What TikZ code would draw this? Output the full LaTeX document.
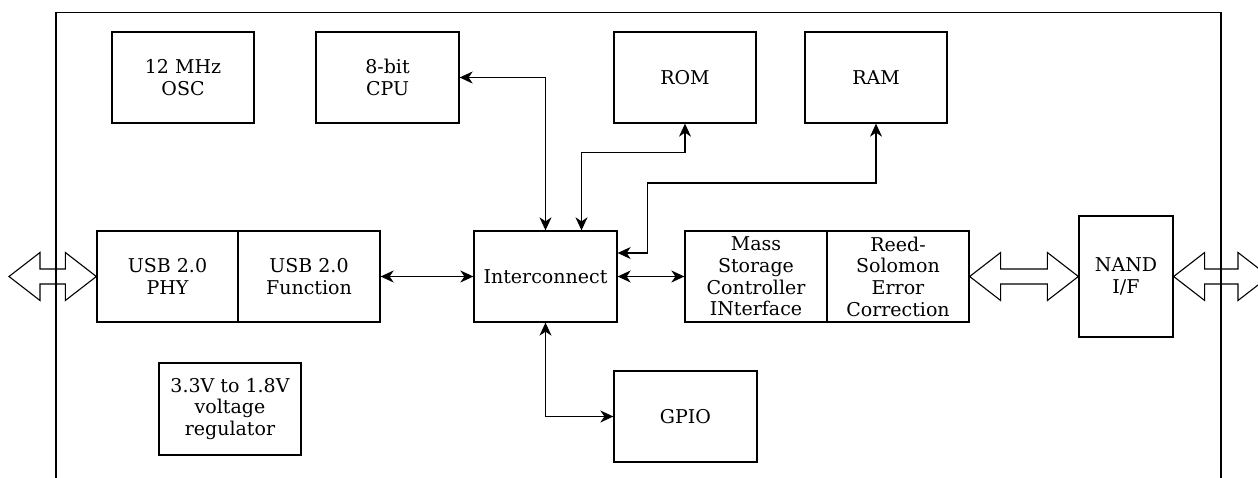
\documentclass[tikz,border=0pt]{standalone}
\usepackage{fontspec}
\setmainfont{DejaVu Serif}
\usetikzlibrary{arrows.meta,calc}

% hollow two-headed block arrow between two points on the same level
\newcommand\dblarrow[2]{%
  \draw[hollow] (#1) -- ($(#1)+(31,-24)$) -- ($(#1)+(31,-7.5)$)
    -- ($(#2)+(-31,-7.5)$) -- ($(#2)+(-31,-24)$) -- (#2)
    -- ($(#2)+(-31,24)$) -- ($(#2)+(-31,7.5)$)
    -- ($(#1)+(31,7.5)$) -- ($(#1)+(31,24)$) -- cycle;}

\begin{document}
\begin{tikzpicture}[x=1pt,y=-1pt,
  blk/.style={draw, line width=1.3pt, minimum width=142pt, minimum height=91pt,
    inner sep=0pt, align=center, font=\fontsize{19}{21.7}\selectfont},
  link/.style={line width=1.3pt, {Stealth[length=13pt,width=12pt,inset=4pt]}-{Stealth[length=13pt,width=12pt,inset=4pt]}},
  hollow/.style={draw, line width=1.1pt, line join=miter},
  frame/.style={draw, line width=1.1pt}]
\useasboundingbox (0,0) rectangle (1258,478);
\clip (0,0) rectangle (1258,478);

% top row
\node[blk] (osc) at (183,77.5) {12 MHz\\OSC};
\node[blk, minimum width=143pt] (cpu) at (387.5,77.5) {8-bit\\CPU};
\node[blk] (rom) at (685,77.5) {ROM};
\node[blk] (ram) at (876,77.5) {RAM};

% middle row
\node[blk, minimum width=141pt] (phy) at (167.5,276.5) {USB 2.0\\PHY};
\node[blk] (fn) at (309,276.5) {USB 2.0\\Function};
\node[blk, minimum width=143pt] (ic) at (545.5,276.5) {Interconnect};
\node[blk] (mass) at (756,276.5) {Mass\\Storage\\Controller\\INterface};
\node[blk] (reed) at (898,276.5) {Reed-\\Solomon\\Error\\Correction};
\node[blk, minimum width=94pt, minimum height=121pt] (nand) at (1126,276.5) {NAND\\I/F};

% bottom row
\node[blk, minimum height=92pt] (reg) at (230,409) {3.3V to 1.8V\\voltage\\regulator};
\node[blk, minimum width=143pt] (gpio) at (685.5,416.5) {GPIO};

% bus connections
\draw[link] (fn) -- (ic);
\draw[link] (ic) -- (mass);
\draw[link] (cpu.east) -| (ic.north);
\draw[link] ([xshift=36pt]ic.north) -- ++(0,-78) -| (rom.south);
\draw[link] ([yshift=23.5pt]ic.east) -- ++(30,0) -- ++(0,-70) -| (ram.south);
\draw[link] (ic.south) |- (gpio.west);

% external data paths
\coordinate (usbext) at (9,276.5);
\coordinate (nandext) at (1269,276.5);
\dblarrow{usbext}{phy.west}
\dblarrow{reed.east}{nand.west}
\dblarrow{nand.east}{nandext}

% chip outline
\draw[frame] (56,478) -- (56,12.5) -- (1221,12.5) -- (1221,478);
\end{tikzpicture}
\end{document}
